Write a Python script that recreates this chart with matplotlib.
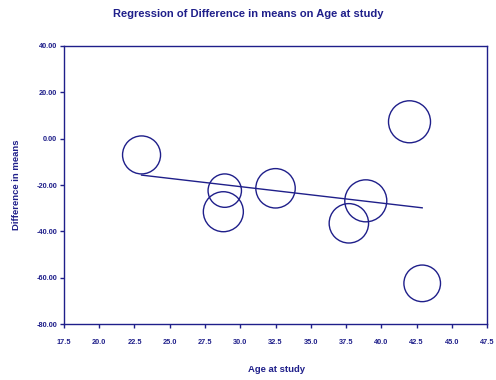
import numpy as np
import matplotlib.pyplot as plt

plt.rcParams['font.family'] = ['Liberation Sans', 'DejaVu Sans']

# bubble data
age = [23.0, 28.9, 28.8, 32.5, 42.0, 38.9, 37.7, 42.9]
diff = [-7.0, -22.4, -31.5, -21.4, 7.3, -26.8, -36.5, -62.4]
radius_px = [19.0, 16.7, 20.0, 19.7, 21.0, 21.0, 19.7, 18.3]

# fitted regression line
intercept = 0.60
slope = -0.709

navy = '#1f1f8a'

fig = plt.figure(figsize=(4.96, 3.80), dpi=100)
ax = fig.add_axes([0.129, 0.147, 0.853, 0.732])

sizes = [(2 * r * 0.72) ** 2 for r in radius_px]
ax.scatter(age, diff, s=sizes, facecolors='none', edgecolors=navy, linewidths=1.0, zorder=3)

xs = np.array([min(age), max(age)])
ax.plot(xs, intercept + slope * xs, color=navy, lw=1.0, zorder=2)

ax.set_xlim(17.5, 47.5)
ax.set_ylim(-80, 40)
ax.set_xticks(np.arange(17.5, 47.6, 2.5))
ax.set_yticks(np.arange(-80, 41, 20))
ax.set_xticklabels(['%.1f' % v for v in np.arange(17.5, 47.6, 2.5)])
ax.set_yticklabels(['%.2f' % v for v in np.arange(-80, 41, 20)])

for s in ax.spines.values():
    s.set_color(navy)
    s.set_linewidth(1.0)
ax.tick_params(axis='both', colors=navy, labelsize=5.3, length=3, width=1.0, direction='out')
ax.tick_params(axis='x', pad=8)
ax.tick_params(axis='y', pad=2)
for lbl in ax.get_xticklabels() + ax.get_yticklabels():
    lbl.set_fontweight('bold')

fig.text(276 / 496, 1 - 369 / 380, 'Age at study', color=navy, fontsize=6.8,
         fontweight='bold', ha='center', va='center')
fig.text(17 / 496, 1 - 185 / 380, 'Difference in means', color=navy, fontsize=6.8,
         fontweight='bold', ha='center', va='center', rotation=90)
fig.text(0.5, 1 - 14 / 380, 'Regression of Difference in means on Age at study', color=navy,
         fontsize=8, fontweight='bold', ha='center', va='center')

fig.savefig('out.png', dpi=100)
